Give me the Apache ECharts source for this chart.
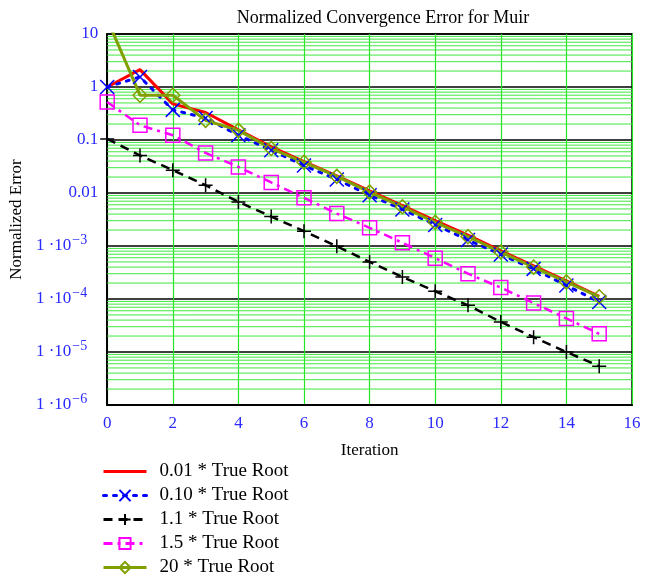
<!DOCTYPE html>
<html>
<head>
<meta charset="utf-8">
<script src="https://cdn.jsdelivr.net/npm/echarts@6/dist/echarts.min.js"></script>
<style>html,body{margin:0;padding:0;background:#fff;}#c{width:654px;height:576px;}</style>
</head>
<body>
<div id="c"></div>
<script>
var iterations = [0,1,2,3,4,5,6,7,8,9,10,11,12,13,14,15];
var root001 = [1.0, 2.13, 0.48, 0.33, 0.155, 0.074, 0.039, 0.021, 0.011, 0.0058, 0.003, 0.0016, 0.00081, 0.00042, 0.00022, 0.000112];
var root010 = [1.0, 1.55, 0.37, 0.26, 0.123, 0.064, 0.033, 0.018, 0.0091, 0.0049, 0.0025, 0.0013, 0.00069, 0.00037, 0.00018, 0.000088];
var root11  = [0.105, 0.051, 0.027, 0.014, 0.0068, 0.0036, 0.0019, 0.00099, 0.0005, 0.00026, 0.00014, 0.000076, 0.000037, 0.000019, 0.00001, 0.0000054];
var root15  = [0.52, 0.19, 0.123, 0.057, 0.031, 0.0158, 0.0081, 0.0041, 0.0022, 0.00115, 0.00059, 0.0003, 0.000164, 0.000084, 0.000043, 0.000022];
var root20  = [19, 0.70, 0.70, 0.235, 0.152, 0.069, 0.038, 0.0206, 0.0104, 0.0055, 0.0028, 0.0015, 0.00077, 0.00040, 0.00021, 0.00011];
var seriesNames = ['0.01 * True Root', '0.10 * True Root', '1.1 * True Root', '1.5 * True Root', '20 * True Root'];
var yTickLabels = {'1': '10', '0': '1', '-1': '0.1', '-2': '0.01', '-3': '1 ·10|−3', '-4': '1 ·10|−4', '-5': '1 ·10|−5', '-6': '1 ·10|−6'};
var yMin = 1e-6, yMax = 10;

function pairs(arr){ return iterations.map(function(x,i){ return [x, arr[i]]; }); }

// minor log gridlines (2..9 x 10^e)
var minorLines = [];
for (var e = -6; e < 1; e++) {
  for (var k = 2; k <= 9; k++) minorLines.push([0, k * Math.pow(10, e)]);
}

var serif = 'Liberation Serif';
var chart = echarts.init(document.getElementById('c'), null, { renderer: 'canvas' });
chart.setOption({
  animation: false,
  backgroundColor: '#fff',
  textStyle: { fontFamily: serif },
  title: {
    text: 'Normalized Convergence Error for Muir',
    left: 378, textAlign: 'center', top: 4,
    textStyle: { fontFamily: serif, fontSize: 18, fontWeight: 'normal', color: '#000' }
  },
  grid: { left: 106, right: 22, top: 34, bottom: 171, show: true, borderColor: '#000', borderWidth: 1.5, backgroundColor: 'transparent' },
  legend: {
    orient: 'vertical', left: 102, top: 462, padding: 0, height: 140,
    itemWidth: 43, itemHeight: 14, itemGap: 5,
    lineStyle: { width: 3 },
    textStyle: { fontFamily: serif, fontSize: 19, color: '#000', padding: [0, 0, 0, 8] },
    data: [
      { name: seriesNames[0], itemStyle: { color: 'rgba(0,0,0,0)', borderColor: 'rgba(0,0,0,0)', borderWidth: 0 } },
      seriesNames[1], seriesNames[2], seriesNames[3], seriesNames[4]
    ]
  },
  xAxis: {
    type: 'value', min: 0, max: 16, interval: 2,
    name: 'Iteration', nameLocation: 'middle', nameGap: 37,
    nameTextStyle: { fontFamily: serif, fontSize: 17, color: '#000' },
    axisLine: { onZero: false, lineStyle: { color: '#000', width: 2 } },
    axisTick: { show: false },
    axisLabel: { fontFamily: serif, fontSize: 17, color: '#2a2aff', margin: 10 },
    splitLine: { show: true, lineStyle: { color: '#22e622', width: 1.2 } }
  },
  yAxis: {
    type: 'log', logBase: 10, min: yMin, max: yMax, interval: 1,
    name: 'Normalized Error', nameLocation: 'middle', nameGap: 73, nameRotate: 90,
    nameTextStyle: { fontFamily: serif, fontSize: 17, color: '#000' },
    axisLine: { show: true, lineStyle: { color: '#000', width: 2 } },
    axisTick: { show: false },
    axisLabel: {
      margin: 9, color: '#2a2aff',
      formatter: function (v) {
        var ex = Math.round(Math.log(v) / Math.LN10);
        var t = yTickLabels[String(ex)] || '';
        if (t.indexOf('|') >= 0) {
          var p = t.split('|');
          return '{b|' + p[0] + '}{s|' + p[1] + '}';
        }
        return '{b|' + t + '}';
      },
      rich: {
        b: { fontFamily: serif, fontSize: 17, color: '#2a2aff' },
        s: { fontFamily: serif, fontSize: 14, color: '#2a2aff', padding: [0, 11, 12, 1] }
      }
    },
    splitLine: { show: true, lineStyle: { color: '#000', width: 1.5 } }
  },
  series: [
    {
      name: '__minor', type: 'custom', data: minorLines, silent: true, z: 1,
      encode: { x: 0, y: 1 },
      renderItem: function (params, api) {
        var y = api.coord([0, api.value(1)])[1];
        var cs = params.coordSys;
        return {
          type: 'line',
          shape: { x1: cs.x, y1: y, x2: cs.x + cs.width, y2: y },
          style: { stroke: '#3fe83f', lineWidth: 1 }
        };
      }
    },
    {
      name: seriesNames[0], type: 'line', data: pairs(root001),
      showSymbol: false, symbol: 'circle', symbolSize: 0, color: '#ff0000',
      lineStyle: { color: '#ff0000', width: 3 }, z: 3
    },
    {
      name: seriesNames[1], type: 'line', data: pairs(root010),
      symbol: 'path://M0,0L10,10M10,0L0,10', symbolSize: 14, color: '#0000ff',
      itemStyle: { color: '#0000ff', borderColor: '#0000ff', borderWidth: 1.5 },
      lineStyle: { color: '#0000ff', width: 3, type: [3, 7], cap: 'round' }, z: 3
    },
    {
      name: seriesNames[2], type: 'line', data: pairs(root11),
      symbol: 'path://M5,0L5,10M0,5L10,5', symbolSize: 14, color: '#000',
      itemStyle: { color: '#000', borderColor: '#000', borderWidth: 1.5 },
      lineStyle: { color: '#000', width: 2.5, type: [9, 6] }, z: 3
    },
    {
      name: seriesNames[3], type: 'line', data: pairs(root15),
      symbol: 'rect', symbolSize: 14, color: '#ff00ff',
      itemStyle: { color: 'rgba(255,255,255,0)', borderColor: '#ff00ff', borderWidth: 1.5 },
      lineStyle: { color: '#ff00ff', width: 2.5, type: [9, 5, 3, 5] }, z: 3
    },
    {
      name: seriesNames[4], type: 'line', data: pairs(root20),
      symbol: 'diamond', symbolSize: 14, color: '#80a000',
      itemStyle: { color: 'rgba(255,255,255,0)', borderColor: '#80a000', borderWidth: 1.5 },
      lineStyle: { color: '#80a000', width: 3 }, z: 3
    }
  ]
});
</script>
</body>
</html>
